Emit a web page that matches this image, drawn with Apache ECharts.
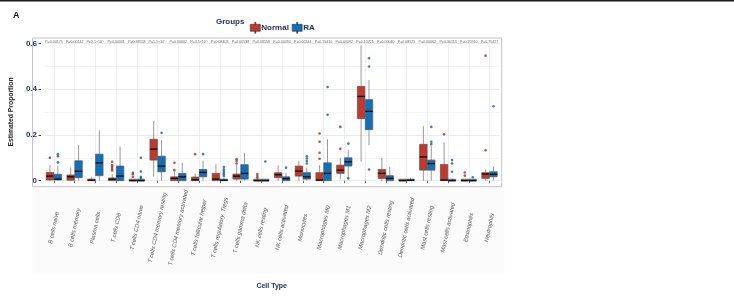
<!DOCTYPE html>
<html>
<head>
<meta charset="utf-8">
<script src="https://cdn.jsdelivr.net/npm/echarts@6/dist/echarts.min.js"></script>
<style>
html, body { margin: 0; padding: 0; background: #fff; }
#main { width: 734px; height: 297px; }
</style>
</head>
<body>
<div id="main"></div>
<script>
var categories = ['B cells naive', 'B cells memory', 'Plasma cells', 'T cells CD8', 'T cells CD4 naive',
	'T cells CD4 memory resting', 'T cells CD4 memory activated', 'T cells follicular helper',
	'T cells regulatory  Tregs', 'T cells gamma delta', 'NK cells resting', 'NK cells activated',
	'Monocytes', 'Macrophages M0', 'Macrophages M1', 'Macrophages M2', 'Dendritic cells resting',
	'Dendritic cells activated', 'Mast cells resting', 'Mast cells activated', 'Eosinophils', 'Neutrophils'];

var pLabels = ['P=0.04175', 'P=0.00142', 'P=2.1×10⁻⁷', 'P=0.00031', 'P=0.38558', 'P=1.1×10⁻⁴',
	'P=0.00602', 'P=4.5×10⁻⁷', 'P=0.08403', 'P=0.00538', 'P=0.08558', 'P=0.00494', 'P=0.02444',
	'P=0.15410', 'P=0.00092', 'P=0.10725', 'P=0.00040', 'P=0.08525', 'P=0.00062', 'P=0.30113',
	'P=0.25910', 'P=0.75427'];

// [min, q1, median, q3, max]
var normalBox = [
	[0, 0.003, 0.02, 0.036, 0.068], [0, 0.002, 0.017, 0.025, 0.058], [0, 0, 0.002, 0.007, 0.017],
	[0, 0, 0.006, 0.012, 0.03], [0, 0, 0, 0.003, 0.006], [0.017, 0.09, 0.138, 0.181, 0.26],
	[0, 0, 0.01, 0.017, 0.04], [0, 0, 0.004, 0.016, 0.032], [0, 0, 0.007, 0.032, 0.072],
	[0, 0.007, 0.02, 0.029, 0.068], [0, 0, 0, 0.004, 0.008], [0, 0.013, 0.026, 0.035, 0.067],
	[0, 0.02, 0.042, 0.064, 0.086], [0, 0, 0.003, 0.035, 0.068], [0.006, 0.032, 0.046, 0.068, 0.1],
	[0.083, 0.271, 0.368, 0.412, 0.59], [0, 0.01, 0.032, 0.049, 0.1], [0, 0, 0, 0.002, 0.004],
	[0, 0.046, 0.104, 0.159, 0.238], [0, 0, 0.003, 0.071, 0.167], [0, 0, 0, 0.002, 0.004],
	[0, 0.01, 0.029, 0.035, 0.049]
];
var raBox = [
	[0, 0.003, 0.007, 0.028, 0.065], [0, 0.013, 0.041, 0.087, 0.155], [0, 0.022, 0.078, 0.116, 0.22],
	[0, 0, 0.02, 0.064, 0.15], [0, 0, 0, 0.004, 0.008], [0, 0.039, 0.064, 0.107, 0.177],
	[0, 0, 0.017, 0.032, 0.078], [0, 0.017, 0.036, 0.049, 0.087], [0, 0, 0.002, 0.006, 0.012],
	[0, 0.007, 0.032, 0.07, 0.122], [0, 0, 0, 0.003, 0.006], [0, 0, 0.009, 0.017, 0.035],
	[0, 0.007, 0.017, 0.035, 0.058], [0, 0, 0.032, 0.078, 0.181], [0.01, 0.064, 0.083, 0.1, 0.133],
	[0.155, 0.223, 0.303, 0.354, 0.44], [0, 0, 0.01, 0.022, 0.061], [0, 0, 0.002, 0.006, 0.012],
	[0, 0.046, 0.075, 0.09, 0.155], [0, 0, 0, 0.003, 0.006], [0, 0, 0, 0.002, 0.004],
	[0, 0.017, 0.028, 0.039, 0.061]
];

// [category index, value]
var normalOutliers = [
	[0, 0.1], [3, 0.083], [3, 0.068], [3, 0.06], [3, 0.052], [3, 0.045],
	[4, 0.035], [4, 0.028], [4, 0.017], [6, 0.078], [6, 0.046], [7, 0.116],
	[9, 0.094], [9, 0.086], [9, 0.075], [10, 0.029], [10, 0.02], [10, 0.013],
	[13, 0.206], [13, 0.17], [13, 0.122], [13, 0.096], [14, 0.235], [14, 0.139],
	[19, 0.203], [20, 0.036], [20, 0.022], [21, 0.546], [21, 0.133]
];
var raOutliers = [
	[0, 0.116], [0, 0.107], [0, 0.08], [4, 0.1], [4, 0.04], [4, 0.017], [4, 0.012],
	[5, 0.209], [7, 0.116], [8, 0.06], [8, 0.05], [8, 0.042], [8, 0.035], [8, 0.028], [8, 0.02],
	[10, 0.084], [11, 0.057], [12, 0.107], [12, 0.097], [12, 0.086], [12, 0.075],
	[13, 0.288], [13, 0.409], [14, 0.162], [14, 0.01], [15, 0.535], [15, 0.499], [15, 0.049],
	[18, 0.235], [18, 0.17], [18, 0.16], [19, 0.09], [19, 0.075], [19, 0.039], [20, 0.015],
	[21, 0.325]
];

var RED = '#c0392b', BLUE = '#1170b8', NAVY = '#1d2b57';

function boxRenderer(side, fill) {
	return function (params, api) {
		var i = api.value(0);
		var band = api.size([1, 0])[0];
		var cx = api.coord([i, 0])[0] + side * band * 0.19;
		var w = band * 0.36;
		var yMin = api.coord([i, api.value(1)])[1];
		var yQ1 = api.coord([i, api.value(2)])[1];
		var yMed = api.coord([i, api.value(3)])[1];
		var yQ3 = api.coord([i, api.value(4)])[1];
		var yMax = api.coord([i, api.value(5)])[1];
		var hBox = Math.max(yQ1 - yQ3, 1.5);
		return {
			type: 'group',
			children: [
				{ type: 'line', shape: { x1: cx, y1: yQ3, x2: cx, y2: yMax }, style: { stroke: '#8c8c8c', lineWidth: 0.9 } },
				{ type: 'line', shape: { x1: cx, y1: yQ1, x2: cx, y2: yMin }, style: { stroke: '#8c8c8c', lineWidth: 0.9 } },
				{ type: 'rect', shape: { x: cx - w / 2, y: yQ1 - hBox, width: w, height: hBox },
					style: { fill: fill, stroke: '#555', lineWidth: 0.7 } },
				{ type: 'line', shape: { x1: cx - w / 2, y1: yMed, x2: cx + w / 2, y2: yMed },
					style: { stroke: '#111', lineWidth: 1.4 } }
			]
		};
	};
}

var myChart = echarts.init(document.getElementById('main'), null, { renderer: 'canvas' });

myChart.setOption({
	animation: false,
	title: { text: 'A', left: 8, top: 6, textStyle: { fontSize: 9, fontWeight: 'bold', color: '#111', fontFamily: 'Liberation Sans' } },
	legend: {
		left: 245, top: 17, itemWidth: 10, itemHeight: 11, itemGap: 3, selectedMode: false,
		textStyle: { fontSize: 8, fontWeight: 'bold', color: NAVY, fontFamily: 'Liberation Sans', padding: [0, 0, 0, -4] },
		data: [
			{ name: 'Normal', icon: 'path://M4.5,0h1v2h-1z M0,2h10v7h-10z M4.5,9h1v2h-1z', itemStyle: { color: RED, borderColor: '#333', borderWidth: 0.6 } },
			{ name: 'RA', icon: 'path://M4.5,0h1v2h-1z M0,2h10v7h-10z M4.5,9h1v2h-1z', itemStyle: { color: BLUE, borderColor: '#333', borderWidth: 0.6 } }
		]
	},
	graphic: [
		{ type: 'rect', shape: { x: 0, y: 0, width: 734, height: 1.5 }, style: { fill: '#1a1a1a' }, silent: true },
		{ type: 'rect', z: -10, shape: { x: 32.5, y: 187, width: 472, height: 87 }, style: { fill: '#fbfbfb' }, silent: true },
		{ type: 'rect', z: 10, shape: { x: 32.5, y: 38, width: 469.2, height: 148.7 }, style: { fill: null, stroke: '#c4c4c4', lineWidth: 1 }, silent: true },
		{ type: 'text', left: 216, top: 18, style: { text: 'Groups', fontSize: 8, fontWeight: 'bold', fill: NAVY, fontFamily: 'Liberation Sans' } }
	],
	grid: { left: 35.1, right: 234.1, top: 43.3, bottom: 116.3 },
	xAxis: [
		{
			type: 'category', data: categories, offset: 6,
			axisLine: { show: false },
			axisTick: { show: true, alignWithLabel: true, length: 2.5, lineStyle: { color: '#666' } },
			axisLabel: {
				interval: 0, rotate: 78, align: 'center', verticalAlign: 'middle', margin: 41,
				fontSize: 5.8, fontStyle: 'italic', color: '#555', fontFamily: 'Liberation Sans'
			},
			splitLine: { show: true, alignWithLabel: true, lineStyle: { color: '#e8e8e8', width: 0.8 } },
			name: 'Cell Type', nameLocation: 'middle', nameGap: 96,
			nameTextStyle: { fontSize: 7, fontWeight: 'bold', color: NAVY, fontFamily: 'Liberation Sans' }
		},
		{
			type: 'category', data: pLabels, position: 'top', offset: 5.3,
			axisLine: { show: false }, axisTick: { show: false },
			axisLabel: { inside: true, interval: 0, margin: 1.5, fontSize: 3.6, color: '#666', fontFamily: 'Liberation Sans' }
		}
	],
	yAxis: {
		type: 'value', min: 0, max: 0.6, interval: 0.2, offset: 2.5,
		axisLine: { show: false },
		axisTick: { show: true, length: 2.5, lineStyle: { color: '#444' } },
		axisLabel: {
			margin: 4, fontSize: 8, fontWeight: 'bold', color: NAVY, fontFamily: 'Liberation Sans',
			formatter: function (v) { return v === 0 ? '0' : v.toFixed(1); }
		},
		minorTick: { show: false, splitNumber: 2 },
		splitLine: { lineStyle: { color: '#e6e6e6', width: 0.8 } },
		minorSplitLine: { show: true, lineStyle: { color: '#f1f1f1', width: 0.8 } },
		name: 'Estimated Proportion', nameLocation: 'middle', nameGap: 24,
		nameTextStyle: { fontSize: 6.8, fontWeight: 'bold', color: '#222', fontFamily: 'Liberation Sans' }
	},
	series: [
		{
			name: 'Normal', type: 'custom', renderItem: boxRenderer(-1, RED), itemStyle: { color: RED },
			encode: { x: 0, y: [1, 2, 3, 4, 5] },
			data: normalBox.map(function (b, i) { return [i].concat(b); })
		},
		{
			name: 'RA', type: 'custom', renderItem: boxRenderer(1, BLUE), itemStyle: { color: BLUE },
			encode: { x: 0, y: [1, 2, 3, 4, 5] },
			data: raBox.map(function (b, i) { return [i].concat(b); })
		},
		{
			name: 'Normal outliers', type: 'scatter', symbol: 'circle', symbolSize: 2.6, symbolOffset: [-4, 0],
			itemStyle: { color: '#9b2d22' }, data: normalOutliers, z: 5
		},
		{
			name: 'RA outliers', type: 'scatter', symbol: 'circle', symbolSize: 2.6, symbolOffset: [4, 0],
			itemStyle: { color: '#155d99' }, data: raOutliers, z: 5
		}
	]
});
</script>
</body>
</html>
